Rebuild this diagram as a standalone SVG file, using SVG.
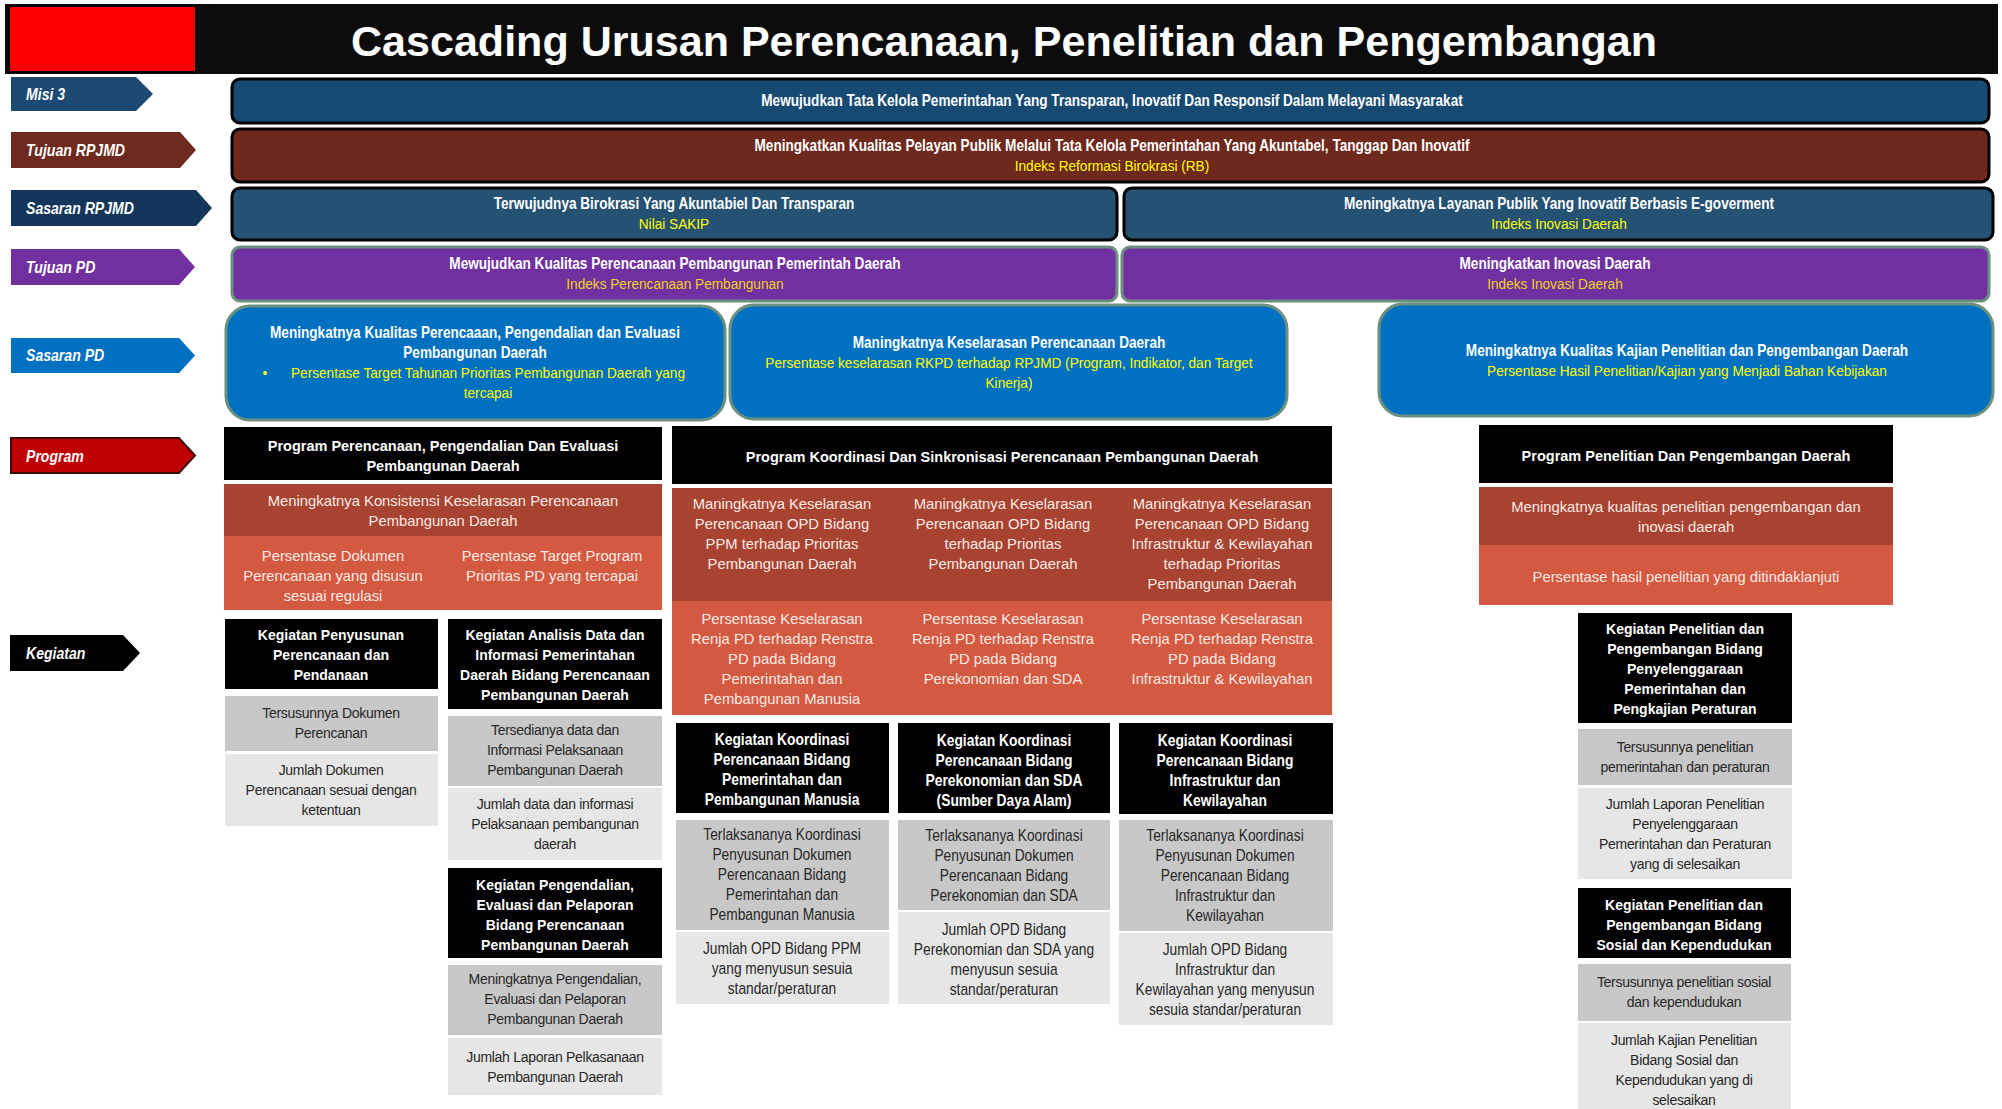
<svg xmlns="http://www.w3.org/2000/svg" width="2002" height="1109" viewBox="0 0 2002 1109">
<style>
text{dominant-baseline:central}
.title{font-family:"Liberation Sans",Arial,sans-serif;font-weight:bold;font-size:42px;fill:#fff;text-anchor:middle}
.lbl{font-family:"Liberation Sans",sans-serif;font-weight:bold;font-style:italic;font-size:16px;fill:#fff;transform:scaleX(0.88);transform-box:fill-box;transform-origin:0 50%}
.bw{font-family:"Liberation Sans",sans-serif;font-weight:bold;font-size:16px;fill:#fff;text-anchor:middle;transform:scaleX(0.85);transform-box:fill-box;transform-origin:50% 50%}
.by{font-family:"Liberation Sans",sans-serif;font-size:15.5px;fill:#ffff00;text-anchor:middle;transform:scaleX(0.88);transform-box:fill-box;transform-origin:50% 50%}
.bg{font-family:"Liberation Sans",sans-serif;font-size:15.5px;fill:#f2d21b;text-anchor:middle;transform:scaleX(0.88);transform-box:fill-box;transform-origin:50% 50%}
.ph{font-family:"Liberation Sans",sans-serif;font-weight:bold;font-size:14.5px;fill:#fff;text-anchor:middle}
.rt{font-family:"Liberation Sans",sans-serif;font-size:14.8px;fill:#fbeae4;text-anchor:middle}
.kh{font-family:"Liberation Sans",sans-serif;font-weight:bold;font-size:14px;fill:#fff;text-anchor:middle}
.khn{font-family:"Liberation Sans",sans-serif;font-weight:bold;font-size:16.5px;fill:#fff;text-anchor:middle;transform:scaleX(0.84);transform-box:fill-box;transform-origin:50% 50%}
.kt{font-family:"Liberation Sans",sans-serif;font-size:14px;letter-spacing:-0.3px;fill:#262626;text-anchor:middle}
.ktn{font-family:"Liberation Sans",sans-serif;font-size:16px;fill:#262626;text-anchor:middle;transform:scaleX(0.86);transform-box:fill-box;transform-origin:50% 50%}
.blk{stroke:#000;stroke-width:3}
.grn{stroke:#6b9080;stroke-width:3}
.dr{fill:#a84332}
.lr{fill:#d35941}
.g1{fill:#c8c8c8}
.g2{fill:#e6e6e6}
</style>

<g id="title">
<rect x="5" y="4" width="1993" height="70" fill="#0c0c0c"/>
<rect x="9" y="6" width="187" height="66" fill="#ff0000" stroke="#000" stroke-width="2"/>
<text class="title" x="1004" y="41" textLength="1306" lengthAdjust="spacingAndGlyphs">Cascading Urusan Perencanaan, Penelitian dan Pengembangan</text>
</g>

<g id="labels">
<g id="lbl-misi"><polygon points="11,77 136,77 153,94 136,111 11,111" fill="#1c4a73"/><text class="lbl" x="26" y="94">Misi 3</text></g>
<g id="lbl-tujuan-rpjmd"><polygon points="11,132 180,132 196,150 180,168 11,168" fill="#6e2a1e"/><text class="lbl" x="26" y="150">Tujuan RPJMD</text></g>
<g id="lbl-sasaran-rpjmd"><polygon points="11,190 196,190 212,208 196,226 11,226" fill="#13365a"/><text class="lbl" x="26" y="208">Sasaran RPJMD</text></g>
<g id="lbl-tujuan-pd"><polygon points="11,249 179,249 195,267 179,285 11,285" fill="#7030a0"/><text class="lbl" x="26" y="267">Tujuan PD</text></g>
<g id="lbl-sasaran-pd"><polygon points="11,338 179,338 195,355.5 179,373 11,373" fill="#0070c0"/><text class="lbl" x="26" y="355">Sasaran PD</text></g>
<g id="lbl-program"><polygon points="11,438 179,438 195,455.5 179,473 11,473" fill="#c00000" stroke="#3a0a0a" stroke-width="2"/><text class="lbl" x="26" y="456">Program</text></g>
<g id="lbl-kegiatan"><polygon points="10,635 123,635 140,653 123,671 10,671" fill="#000"/><text class="lbl" x="26" y="653">Kegiatan</text></g>
</g>

<g id="misi">
<rect class="blk" x="232" y="79" width="1757" height="44" rx="8" fill="#174a72"/>
<text class="bw" x="1112" y="101">Mewujudkan Tata Kelola Pemerintahan Yang Transparan, Inovatif Dan Responsif Dalam Melayani Masyarakat</text>
</g>

<g id="tujuan-rpjmd">
<rect class="blk" x="232" y="129" width="1757" height="53" rx="8" fill="#6e281c"/>
<text class="bw" x="1112" y="146">Meningkatkan Kualitas Pelayan Publik  Melalui Tata Kelola Pemerintahan Yang Akuntabel, Tanggap Dan Inovatif</text>
<text class="by" x="1112" y="166">Indeks Reformasi Birokrasi (RB)</text>
</g>

<g id="sasaran-rpjmd-1">
<rect class="blk" x="232" y="188" width="885" height="52" rx="8" fill="#255173"/>
<text class="bw" x="674" y="204">Terwujudnya Birokrasi Yang Akuntabiel Dan Transparan</text>
<text class="by" x="674" y="224">Nilai SAKIP</text>
</g>
<g id="sasaran-rpjmd-2">
<rect class="blk" x="1124" y="188" width="869" height="52" rx="8" fill="#255173"/>
<text class="bw" x="1559" y="204">Meningkatnya Layanan Publik Yang Inovatif Berbasis E-goverment</text>
<text class="by" x="1559" y="224">Indeks Inovasi Daerah</text>
</g>

<g id="tujuan-pd-1">
<rect class="grn" x="232" y="247" width="885" height="54" rx="8" fill="#7030a0"/>
<text class="bw" x="675" y="264">Mewujudkan Kualitas Perencanaan Pembangunan Pemerintah Daerah</text>
<text class="bg" x="675" y="284">Indeks Perencanaan Pembangunan</text>
</g>
<g id="tujuan-pd-2">
<rect class="grn" x="1122" y="247" width="867" height="54" rx="8" fill="#7030a0"/>
<text class="bw" x="1555" y="264">Meningkatkan Inovasi Daerah</text>
<text class="bg" x="1555" y="284">Indeks Inovasi Daerah</text>
</g>

<g id="sasaran-pd-1">
<rect class="grn" x="226" y="306" width="499" height="114" rx="24" fill="#0070c0"/>
<text class="bw" x="475" y="333">Meningkatnya Kualitas Perencaaan, Pengendalian dan Evaluasi</text>
<text class="bw" x="475" y="353">Pembangunan Daerah</text>
<text class="by" x="265" y="373">•</text>
<text class="by" x="488" y="373">Persentase Target Tahunan Prioritas Pembangunan Daerah yang</text>
<text class="by" x="488" y="393">tercapai</text>
</g>
<g id="sasaran-pd-2">
<rect class="grn" x="730" y="305" width="557" height="114" rx="24" fill="#0070c0"/>
<text class="bw" x="1009" y="343">Maningkatnya Keselarasan Perencanaan Daerah</text>
<text class="by" x="1009" y="363">Persentase keselarasan RKPD terhadap RPJMD (Program, Indikator, dan Target</text>
<text class="by" x="1009" y="383">Kinerja)</text>
</g>
<g id="sasaran-pd-3">
<rect class="grn" x="1379" y="304" width="614" height="112" rx="24" fill="#0070c0"/>
<text class="bw" x="1687" y="351">Meningkatnya Kualitas Kajian Penelitian dan Pengembangan Daerah</text>
<text class="by" x="1687" y="371">Persentase Hasil Penelitian/Kajian yang Menjadi Bahan Kebijakan</text>
</g>

<g id="program-1">
<rect x="224" y="427" width="438" height="53" fill="#000"/>
<text class="ph" x="443" y="446">Program Perencanaan, Pengendalian Dan Evaluasi</text>
<text class="ph" x="443" y="466">Pembangunan Daerah</text>
<rect class="dr" x="224" y="484" width="438" height="52"/>
<text class="rt" x="443" y="501">Meningkatnya Konsistensi Keselarasan Perencanaan</text>
<text class="rt" x="443" y="521">Pembangunan Daerah</text>
<rect class="lr" x="224" y="536" width="438" height="74"/>
<text class="rt" x="333" y="556">Persentase Dokumen</text>
<text class="rt" x="333" y="576">Perencanaan yang disusun</text>
<text class="rt" x="333" y="596">sesuai regulasi</text>
<text class="rt" x="552" y="556">Persentase Target Program</text>
<text class="rt" x="552" y="576">Prioritas PD yang tercapai</text>
</g>

<g id="program-2">
<rect x="672" y="426" width="660" height="58" fill="#000"/>
<text class="ph" x="1002" y="457">Program Koordinasi Dan Sinkronisasi Perencanaan Pembangunan Daerah</text>
<rect class="dr" x="672" y="488" width="660" height="113"/>
<text class="rt" x="782" y="504">Maningkatnya Keselarasan</text>
<text class="rt" x="782" y="524">Perencanaan OPD Bidang</text>
<text class="rt" x="782" y="544">PPM terhadap Prioritas</text>
<text class="rt" x="782" y="564">Pembangunan Daerah</text>
<text class="rt" x="1003" y="504">Maningkatnya Keselarasan</text>
<text class="rt" x="1003" y="524">Perencanaan OPD Bidang</text>
<text class="rt" x="1003" y="544">terhadap Prioritas</text>
<text class="rt" x="1003" y="564">Pembangunan Daerah</text>
<text class="rt" x="1222" y="504">Maningkatnya Keselarasan</text>
<text class="rt" x="1222" y="524">Perencanaan OPD Bidang</text>
<text class="rt" x="1222" y="544">Infrastruktur &amp; Kewilayahan</text>
<text class="rt" x="1222" y="564">terhadap Prioritas</text>
<text class="rt" x="1222" y="584">Pembangunan Daerah</text>
<rect class="lr" x="672" y="601" width="660" height="114"/>
<text class="rt" x="782" y="619">Persentase Keselarasan</text>
<text class="rt" x="782" y="639">Renja PD terhadap Renstra</text>
<text class="rt" x="782" y="659">PD pada Bidang</text>
<text class="rt" x="782" y="679">Pemerintahan dan</text>
<text class="rt" x="782" y="699">Pembangunan Manusia</text>
<text class="rt" x="1003" y="619">Persentase Keselarasan</text>
<text class="rt" x="1003" y="639">Renja PD terhadap Renstra</text>
<text class="rt" x="1003" y="659">PD pada Bidang</text>
<text class="rt" x="1003" y="679">Perekonomian dan SDA</text>
<text class="rt" x="1222" y="619">Persentase Keselarasan</text>
<text class="rt" x="1222" y="639">Renja PD terhadap Renstra</text>
<text class="rt" x="1222" y="659">PD pada Bidang</text>
<text class="rt" x="1222" y="679">Infrastruktur &amp; Kewilayahan</text>
</g>

<g id="program-3">
<rect x="1479" y="425" width="414" height="58" fill="#000"/>
<text class="ph" x="1686" y="456">Program Penelitian Dan Pengembangan Daerah</text>
<rect class="dr" x="1479" y="487" width="414" height="58"/>
<text class="rt" x="1686" y="507">Meningkatnya kualitas penelitian pengembangan dan</text>
<text class="rt" x="1686" y="527">inovasi daerah</text>
<rect class="lr" x="1479" y="545" width="414" height="60"/>
<text class="rt" x="1686" y="577">Persentase hasil penelitian  yang ditindaklanjuti</text>
</g>

<g id="kegiatan-1">
<rect x="225" y="619" width="213" height="70" fill="#000"/>
<text class="kh" x="331" y="635">Kegiatan Penyusunan</text>
<text class="kh" x="331" y="655">Perencanaan dan</text>
<text class="kh" x="331" y="675">Pendanaan</text>
<rect class="g1" x="225" y="696" width="213" height="55"/>
<text class="kt" x="331" y="713">Tersusunnya Dokumen</text>
<text class="kt" x="331" y="733">Perencanan</text>
<rect class="g2" x="225" y="754" width="213" height="72"/>
<text class="kt" x="331" y="770">Jumlah Dokumen</text>
<text class="kt" x="331" y="790">Perencanaan sesuai dengan</text>
<text class="kt" x="331" y="810">ketentuan</text>
</g>

<g id="kegiatan-2">
<rect x="448" y="619" width="214" height="90" fill="#000"/>
<text class="kh" x="555" y="635">Kegiatan Analisis Data dan</text>
<text class="kh" x="555" y="655">Informasi Pemerintahan</text>
<text class="kh" x="555" y="675">Daerah Bidang Perencanaan</text>
<text class="kh" x="555" y="695">Pembangunan Daerah</text>
<rect class="g1" x="448" y="716" width="214" height="70"/>
<text class="kt" x="555" y="730">Tersedianya data dan</text>
<text class="kt" x="555" y="750">Informasi Pelaksanaan</text>
<text class="kt" x="555" y="770">Pembangunan Daerah</text>
<rect class="g2" x="448" y="788" width="214" height="72"/>
<text class="kt" x="555" y="804">Jumlah data dan informasi</text>
<text class="kt" x="555" y="824">Pelaksanaan pembangunan</text>
<text class="kt" x="555" y="844">daerah</text>
</g>

<g id="kegiatan-3">
<rect x="448" y="868" width="214" height="90" fill="#000"/>
<text class="kh" x="555" y="885">Kegiatan Pengendalian,</text>
<text class="kh" x="555" y="905">Evaluasi dan Pelaporan</text>
<text class="kh" x="555" y="925">Bidang Perencanaan</text>
<text class="kh" x="555" y="945">Pembangunan Daerah</text>
<rect class="g1" x="448" y="965" width="214" height="70"/>
<text class="kt" x="555" y="979">Meningkatnya Pengendalian,</text>
<text class="kt" x="555" y="999">Evaluasi dan Pelaporan</text>
<text class="kt" x="555" y="1019">Pembangunan Daerah</text>
<rect class="g2" x="448" y="1038" width="214" height="57"/>
<text class="kt" x="555" y="1057">Jumlah Laporan Pelkasanaan</text>
<text class="kt" x="555" y="1077">Pembangunan Daerah</text>
</g>

<g id="kegiatan-4">
<rect x="676" y="723" width="213" height="90" fill="#000"/>
<text class="khn" x="782" y="739">Kegiatan Koordinasi</text>
<text class="khn" x="782" y="759">Perencanaan Bidang</text>
<text class="khn" x="782" y="779">Pemerintahan dan</text>
<text class="khn" x="782" y="799">Pembangunan Manusia</text>
<rect class="g1" x="676" y="820" width="213" height="110"/>
<text class="ktn" x="782" y="834">Terlaksananya Koordinasi</text>
<text class="ktn" x="782" y="854">Penyusunan Dokumen</text>
<text class="ktn" x="782" y="874">Perencanaan Bidang</text>
<text class="ktn" x="782" y="894">Pemerintahan dan</text>
<text class="ktn" x="782" y="914">Pembangunan Manusia</text>
<rect class="g2" x="676" y="932" width="213" height="72"/>
<text class="ktn" x="782" y="948">Jumlah OPD Bidang PPM</text>
<text class="ktn" x="782" y="968">yang menyusun sesuia</text>
<text class="ktn" x="782" y="988">standar/peraturan</text>
</g>

<g id="kegiatan-5">
<rect x="898" y="723" width="212" height="90" fill="#000"/>
<text class="khn" x="1004" y="740">Kegiatan Koordinasi</text>
<text class="khn" x="1004" y="760">Perencanaan Bidang</text>
<text class="khn" x="1004" y="780">Perekonomian dan SDA</text>
<text class="khn" x="1004" y="800">(Sumber Daya Alam)</text>
<rect class="g1" x="898" y="820" width="212" height="90"/>
<text class="ktn" x="1004" y="835">Terlaksananya Koordinasi</text>
<text class="ktn" x="1004" y="855">Penyusunan Dokumen</text>
<text class="ktn" x="1004" y="875">Perencanaan Bidang</text>
<text class="ktn" x="1004" y="895">Perekonomian dan SDA</text>
<rect class="g2" x="898" y="912" width="212" height="92"/>
<text class="ktn" x="1004" y="929">Jumlah OPD Bidang</text>
<text class="ktn" x="1004" y="949">Perekonomian dan SDA yang</text>
<text class="ktn" x="1004" y="969">menyusun sesuia</text>
<text class="ktn" x="1004" y="989">standar/peraturan</text>
</g>

<g id="kegiatan-6">
<rect x="1119" y="723" width="214" height="91" fill="#000"/>
<text class="khn" x="1225" y="740">Kegiatan Koordinasi</text>
<text class="khn" x="1225" y="760">Perencanaan Bidang</text>
<text class="khn" x="1225" y="780">Infrastruktur dan</text>
<text class="khn" x="1225" y="800">Kewilayahan</text>
<rect class="g1" x="1119" y="820" width="214" height="111"/>
<text class="ktn" x="1225" y="835">Terlaksananya Koordinasi</text>
<text class="ktn" x="1225" y="855">Penyusunan Dokumen</text>
<text class="ktn" x="1225" y="875">Perencanaan Bidang</text>
<text class="ktn" x="1225" y="895">Infrastruktur dan</text>
<text class="ktn" x="1225" y="915">Kewilayahan</text>
<rect class="g2" x="1119" y="933" width="214" height="92"/>
<text class="ktn" x="1225" y="949">Jumlah OPD Bidang</text>
<text class="ktn" x="1225" y="969">Infrastruktur dan</text>
<text class="ktn" x="1225" y="989">Kewilayahan yang menyusun</text>
<text class="ktn" x="1225" y="1009">sesuia standar/peraturan</text>
</g>

<g id="kegiatan-7">
<rect x="1578" y="613" width="214" height="110" fill="#000"/>
<text class="kh" x="1685" y="629">Kegiatan Penelitian dan</text>
<text class="kh" x="1685" y="649">Pengembangan Bidang</text>
<text class="kh" x="1685" y="669">Penyelenggaraan</text>
<text class="kh" x="1685" y="689">Pemerintahan dan</text>
<text class="kh" x="1685" y="709">Pengkajian Peraturan</text>
<rect class="g1" x="1578" y="729" width="214" height="56"/>
<text class="kt" x="1685" y="747">Tersusunnya penelitian</text>
<text class="kt" x="1685" y="767">pemerintahan dan peraturan</text>
<rect class="g2" x="1578" y="788" width="214" height="91"/>
<text class="kt" x="1685" y="804">Jumlah Laporan Penelitian</text>
<text class="kt" x="1685" y="824">Penyelenggaraan</text>
<text class="kt" x="1685" y="844">Pemerintahan dan Peraturan</text>
<text class="kt" x="1685" y="864">yang di selesaikan</text>
</g>

<g id="kegiatan-8">
<rect x="1578" y="888" width="213" height="70" fill="#000"/>
<text class="kh" x="1684" y="905">Kegiatan Penelitian dan</text>
<text class="kh" x="1684" y="925">Pengembangan Bidang</text>
<text class="kh" x="1684" y="945">Sosial dan Kependudukan</text>
<rect class="g1" x="1578" y="964" width="213" height="57"/>
<text class="kt" x="1684" y="982">Tersusunnya penelitian sosial</text>
<text class="kt" x="1684" y="1002">dan kependudukan</text>
<rect class="g2" x="1578" y="1023" width="213" height="86"/>
<text class="kt" x="1684" y="1040">Jumlah Kajian Penelitian</text>
<text class="kt" x="1684" y="1060">Bidang Sosial dan</text>
<text class="kt" x="1684" y="1080">Kependudukan yang di</text>
<text class="kt" x="1684" y="1100">selesaikan</text>
</g>

<g id="connectors"/>
</svg>
